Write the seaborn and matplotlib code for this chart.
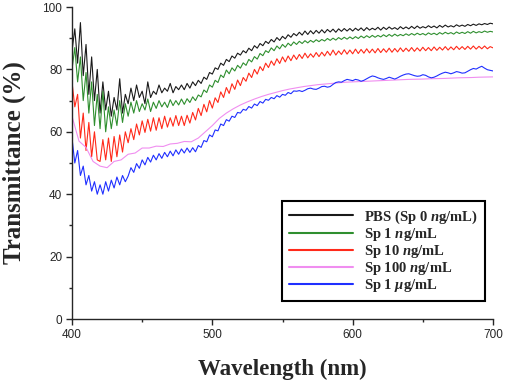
import numpy as np
import pandas as pd
import seaborn as sns
import matplotlib.pyplot as plt
from matplotlib.ticker import MultipleLocator

# comprimento de onda (nm) - grade de 2 nm para as curvas ruidosas
wl_2nm = list(range(400, 701, 2))
# grade de 5 nm para a curva suave (Sp 100 ng/mL)
wl_5nm = list(range(400, 701, 5))

pbs = [86, 93, 82, 95, 78, 88, 72, 84, 70, 80,
       66, 76, 67, 73, 65, 71, 67, 77, 66, 72,
       69, 74, 70, 75, 71, 73, 69, 76, 71, 73,
       72, 75, 72.5, 74, 73, 75.5, 72.5, 74.5, 73.5, 75,
       73.5, 75.5, 74, 76, 74.8, 76.5, 75.5, 77.5, 76.8, 79,
       78.5, 80.5, 80, 82, 81.3, 83.2, 82.5, 84.3, 83.6, 85.2,
       84.6, 86, 85.3, 86.8, 86, 87.6, 86.8, 88.3, 87.6, 89,
       88.3, 89.6, 88.8, 90.2, 89.3, 90.6, 89.8, 91.1, 90.3, 91.5,
       90.8, 91.9, 91, 92.3, 91.2, 92.4, 91.4, 92.5, 91.6, 92.7,
       91.7, 92.8, 92, 92.9, 91.9, 93, 92.2, 93.1, 92.3, 93.1,
       92.3, 93.2, 92.5, 93.3, 92.4, 93.4, 92.6, 93.2, 92.7, 93.5,
       92.6, 93.5, 92.8, 93.6, 92.9, 93.4, 92.8, 93.7, 93, 93.6,
       93, 93.8, 93.1, 93.9, 93.2, 93.7, 93.3, 94, 93.4, 93.9,
       93.3, 94.1, 93.5, 94.2, 93.6, 94, 93.6, 94.3, 93.8, 94.2,
       93.8, 94.4, 94, 94.5, 94.1, 94.6, 94.3, 94.7, 94.4, 94.8,
       94.6]

sp_1ng = [80, 87, 76, 84, 70, 79, 66, 76, 62, 72,
          61, 73, 60, 68, 61, 67, 62, 70, 63, 69,
          65, 69.5, 66, 70, 66.5, 69, 67, 70.5, 66.5, 69.5,
          67.5, 70, 68, 69.5, 67.8, 70.3, 68.4, 70, 68.6, 70.5,
          68.8, 70.6, 69.4, 71.2, 70, 71.8, 71.2, 73.4, 72.6, 75,
          74.3, 76.5, 75.8, 78.2, 77.4, 79.8, 78.6, 80.5, 79.5, 81.3,
          80.4, 82.1, 81.3, 83.2, 82.4, 84.1, 83.3, 85.1, 84.4, 86,
          85.4, 86.9, 86, 87.5, 86.6, 88, 87.1, 88.4, 87.6, 88.8,
          88, 89, 88.3, 89.2, 88.5, 89.3, 88.7, 89.5, 88.9, 89.6,
          89.1, 89.9, 89.3, 90, 89.4, 90.2, 89.6, 90.3, 89.7, 90.4,
          89.8, 90.5, 89.9, 90.7, 90.1, 90.8, 90.2, 90.9, 90.3, 90.9,
          90.4, 91.1, 90.5, 91.2, 90.6, 91.3, 90.7, 91.2, 90.8, 91.4,
          90.9, 91.5, 91, 91.6, 91.1, 91.5, 91, 91.7, 91.2, 91.6,
          91.1, 91.8, 91.3, 91.9, 91.4, 91.8, 91.3, 92, 91.5, 91.9,
          91.5, 92.1, 91.6, 92.2, 91.7, 92.1, 91.8, 92.3, 91.9, 92.2,
          92]

sp_10ng = [76, 68, 72, 58, 66, 54, 63, 52, 60, 51,
           50.5, 57.5, 51, 58, 50.5, 58.5, 52, 59, 53.5, 60,
           56.5, 61, 57.5, 62.5, 59, 63.5, 59.8, 64, 60.2, 64.5,
           60.5, 64.5, 61, 65, 61.5, 64.5, 61.8, 65.2, 62, 65,
           62, 65.3, 62.8, 66.2, 63.8, 67.5, 65.2, 68.8, 66.4, 70,
           67.6, 70.9, 69.4, 72.8, 71, 74.2, 72.3, 75.4, 73.6, 76.6,
           74.8, 77.4, 76.2, 78.8, 77.4, 80, 78.5, 80.9, 79.6, 82,
           80.6, 82.7, 81.3, 83.4, 81.9, 84, 82.4, 84.3, 82.8, 84.6,
           83.2, 84.8, 83.5, 85.2, 83.7, 85, 83.9, 85.4, 84.1, 85.5,
           84.3, 85.8, 84.5, 86.2, 84.6, 85.9, 84.8, 86.3, 84.9, 86.2,
           85, 86.5, 85.1, 86.4, 85.2, 86.6, 85.3, 86.5, 85.3, 86.7,
           85.4, 86.6, 85.5, 86.8, 85.5, 86.7, 85.6, 86.9, 85.7, 86.8,
           85.8, 87, 85.8, 86.9, 85.9, 87.1, 86, 87, 86, 87.2,
           86.1, 87.1, 86.2, 87.3, 86.2, 87.2, 86.3, 87.4, 86.4, 87.3,
           86.4, 87.4, 86.5, 87.5, 86.5, 87.4, 86.6, 87.5, 86.6, 87.3,
           86.9]

sp_100ng = [65, 57, 55, 50.5, 49, 48.5, 50.5, 51, 52.8, 53.2,
            54.8, 54.8, 55.4, 55.3, 56.1, 56.3, 56.9, 56.8, 58, 60,
            62, 64.3, 66, 67.4, 68.6, 69.6, 70.5, 71.3, 72, 72.6,
            73.2, 73.7, 74.1, 74.5, 74.8, 75.1, 75.3, 75.5, 75.7, 75.9,
            76, 76.1, 76.2, 76.3, 76.4, 76.5, 76.6, 76.7, 76.8, 76.85,
            76.9, 77, 77.05, 77.1, 77.2, 77.3, 77.35, 77.4, 77.5, 77.55,
            77.6]

sp_1ug = [58, 50, 54, 46, 49, 43, 46, 41, 44, 40,
          43, 40, 44, 41, 44.5, 42, 45.5, 43, 46, 44,
          45.8, 48.5, 47, 49.8, 48.3, 51, 49.4, 51.8, 50.3, 52.5,
          51, 53, 51.5, 53.4, 52, 53.8, 52.3, 54.2, 52.8, 54.5,
          53.2, 54.8, 53.4, 54.9, 53.6, 55.6, 55, 57.2, 56.8, 59,
          58.4, 60.6, 60.3, 62.5, 62, 63.9, 63.4, 65, 64.6, 66.2,
          66, 67.2, 66.9, 68.1, 67.6, 68.9, 68.4, 69.7, 69.2, 70.4,
          70.1, 71, 70.6, 71.6, 71.1, 72, 71.7, 72.6, 72.2, 73.1,
          73, 73.2, 72.9, 73.3, 73.8, 74, 73.7, 73.6, 74, 74.5,
          74.6, 74.3, 74.5, 75.2, 75.8, 76, 75.9, 76.4, 76.8, 76.6,
          76.4, 76.8, 76.6, 76.2, 76.5, 77, 77.5, 77.9, 77.7, 77.3,
          77, 76.8, 77.1, 77.5, 77.2, 76.9, 77.3, 77.8, 78.2, 78.5,
          78.6, 78.3, 78, 77.8, 77.9, 78.3, 78.1, 77.6, 77.3, 77.5,
          77.9, 78.4, 78.8, 79.1, 78.9, 78.6, 78.9, 79.3, 79.1, 78.8,
          78.9, 79.4, 79.9, 80.3, 80.1, 80.6, 81, 80.4, 79.9, 79.7,
          79.5]

nomes = ["PBS (Sp 0 $n$g/mL)", "Sp 1 $n$g/mL", "Sp 10 $n$g/mL",
         "Sp 100 $n$g/mL", "Sp 1 $\\mu$g/mL"]
cores = ["#1a1a1a", "#2f8f2f", "#ff2a1a", "#f08ef0", "#1f2fff"]

# monto um DataFrame longo para o seaborn
partes = []
for nome, wl, valores in zip(nomes,
                             [wl_2nm, wl_2nm, wl_2nm, wl_5nm, wl_2nm],
                             [pbs, sp_1ng, sp_10ng, sp_100ng, sp_1ug]):
    partes.append(pd.DataFrame({"wl": wl, "T": valores, "amostra": nome}))
df = pd.concat(partes, ignore_index=True)

sns.set_style("ticks")
plt.rcParams["font.family"] = ["Liberation Sans", "DejaVu Sans"]
plt.rcParams["mathtext.fontset"] = "custom"
plt.rcParams["mathtext.it"] = "Liberation Serif:italic:bold"
plt.rcParams["mathtext.rm"] = "Liberation Serif:bold"

fig = plt.figure(figsize=(5.05, 3.84), dpi=100)
ax = fig.add_axes([72 / 505, 1 - 319 / 384, 421 / 505, 312 / 384])

sns.lineplot(data=df, x="wl", y="T", hue="amostra", palette=cores,
             estimator=None, linewidth=0.8, ax=ax)

ax.set_xlim(400, 700)
ax.set_ylim(0, 100)
ax.xaxis.set_major_locator(MultipleLocator(100))
ax.xaxis.set_minor_locator(MultipleLocator(50))
ax.yaxis.set_major_locator(MultipleLocator(20))
ax.yaxis.set_minor_locator(MultipleLocator(10))
ax.tick_params(which="major", length=4, width=1, labelsize=8.5, pad=3)
ax.tick_params(which="minor", length=2.5, width=1)
sns.despine(ax=ax)
for s in ["left", "bottom"]:
    ax.spines[s].set_linewidth(1)

ax.set_xlabel("Wavelength (nm)", family="Liberation Serif", weight="bold",
              fontsize=16.5, labelpad=13)
ax.set_ylabel("Transmittance (%)", family="Liberation Serif", weight="bold",
              fontsize=18, labelpad=12)

leg = ax.legend(loc="upper left", bbox_to_anchor=(282 / 505, 1 - 201 / 384),
                bbox_transform=fig.transFigure, borderaxespad=0,
                fancybox=False, edgecolor="black", framealpha=1,
                prop={"family": "Liberation Serif", "weight": "bold", "size": 10.5},
                handlelength=4.4, handletextpad=0.7, labelspacing=0.0,
                borderpad=0.5)
leg.get_frame().set_linewidth(1.5)
for linha in leg.get_lines():
    linha.set_linewidth(1.5)

fig.savefig("out.png", dpi=100)
